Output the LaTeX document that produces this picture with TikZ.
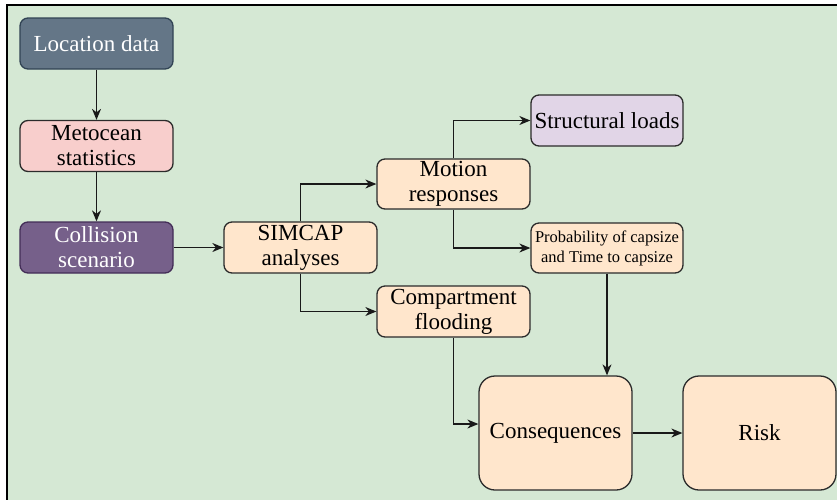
\documentclass[tikz,border=0pt]{standalone}
\usepackage{fontspec}
\setmainfont{Liberation Serif}
\usetikzlibrary{arrows.meta,calc}
\definecolor{bggreen}{HTML}{D5E8D4}
\definecolor{slatefill}{HTML}{647687}
\definecolor{slateline}{HTML}{314354}
\definecolor{pinkfill}{HTML}{F8CECC}
\definecolor{plumfill}{HTML}{76608A}
\definecolor{plumline}{HTML}{432D57}
\definecolor{peachfill}{HTML}{FFE6CC}
\definecolor{lilacfill}{HTML}{E1D5E7}
\definecolor{boxline}{HTML}{2B2B2B}
\tikzset{
  box/.style={draw=boxline, line width=1.3pt, rounded corners=8pt, align=center,
    inner sep=2pt, font=\fontsize{23}{25}\selectfont},
  smallbox/.style={box, minimum width=153pt, minimum height=51pt},
  bigbox/.style={box, minimum width=153pt, minimum height=114pt, rounded corners=16pt},
  flow/.style={line width=1.3pt, draw=black!90, -{Stealth[length=11pt,width=9pt,inset=3.5pt]}},
}
\begin{document}
\begin{tikzpicture}[x=1pt,y=-1pt]
\useasboundingbox (0,0) rectangle (837,499);
\clip (0,0) rectangle (837,499);
% canvas
\draw[fill=bggreen, line width=1.5pt] (7,5) rectangle (860,520);

% left column
\node[smallbox, fill=slatefill, draw=slateline, text=white] (loc) at (96.5,43.5) {Location data};
\node[smallbox, fill=pinkfill] (meto) at (96.5,146) {Metocean\\statistics};
\node[smallbox, fill=plumfill, draw=plumline, text=white] (coll) at (96.5,247.5) {Collision\\scenario};

% analysis
\node[smallbox, fill=peachfill] (simcap) at (300.5,247.5) {SIMCAP\\analyses};
\node[smallbox, fill=peachfill, minimum height=50pt] (motion) at (453.5,184) {Motion\\responses};
\node[smallbox, fill=peachfill] (comp) at (453.5,311.5) {Compartment\\flooding};

% results
\node[smallbox, fill=lilacfill, minimum width=152pt] (struct) at (607,120.5) {Structural loads};
\node[smallbox, fill=peachfill, minimum width=152pt, minimum height=50pt,
      font=\fontsize{16.5}{20}\selectfont] (prob) at (607,248) {Probability of capsize\\and Time to capsize};
\node[bigbox, fill=peachfill] (cons) at (555.5,433) {Consequences};
\node[bigbox, fill=peachfill] (risk) at (759.5,433) {Risk};

% connectors
\draw[flow] (loc) -- (meto);
\draw[flow] (meto) -- (coll);
\draw[flow] (coll) -- (simcap);
\draw[flow] (simcap.north) |- (motion.west);
\draw[flow] (simcap.south) |- (comp.west);
\draw[flow] (motion.north) |- (struct.west);
\draw[flow] (motion.south) |- (prob.west);
\draw[flow] (comp.south) |- ($(cons.west)+(0,-9)$);
\draw[flow] (prob.south) -- (prob.south |- cons.north);
\draw[flow] (cons) -- (risk);
\end{tikzpicture}
\end{document}
